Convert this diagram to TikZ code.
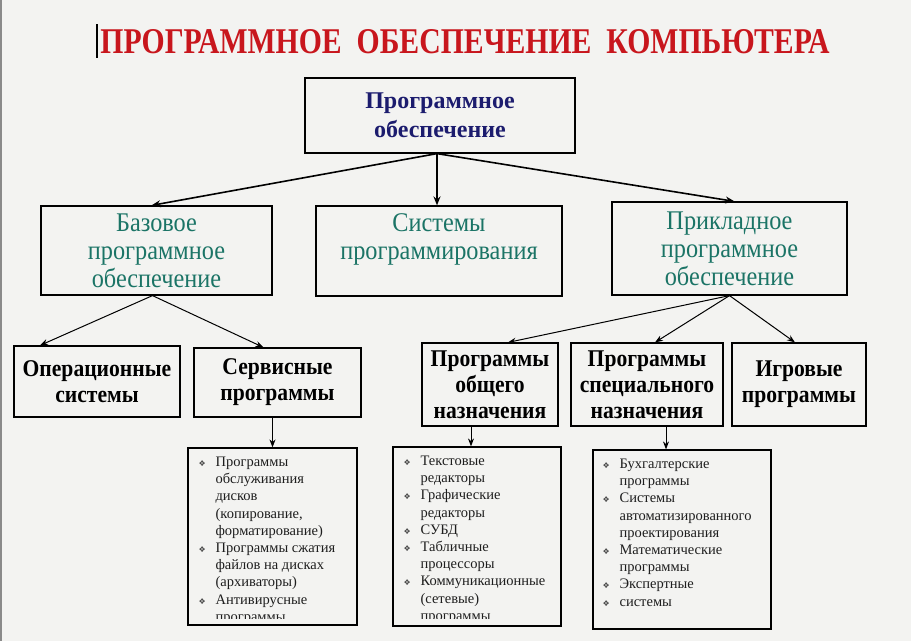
\documentclass[tikz,border=0pt]{standalone}
\usepackage{fontspec}
\usepackage{graphicx}
\setmainfont{Liberation Serif}
\newfontfamily\condfont[FakeStretch=0.9]{Liberation Serif}
\newfontfamily\symfont{DejaVu Sans}
\usetikzlibrary{positioning,arrows.meta,calc}
\definecolor{pBack}{HTML}{F3F3F1}
\definecolor{pRed}{HTML}{C8161D}
\definecolor{pNavy}{HTML}{1C1C6E}
\definecolor{pTeal}{HTML}{1B7466}
\definecolor{pEdge}{HTML}{8A8A8A}
\definecolor{pInk}{HTML}{1E1E1E}
\newcommand{\bul}{{\symfont\fontsize{8}{8}\selectfont\textcolor{black!70}{❖}}}
\newcommand{\plist}[1]{\begin{tabular}[t]{@{}p{17pt}@{}l@{}}#1\end{tabular}}
\newcommand{\wsp}{\hspace{0.45em}}
\tikzset{
  topbox/.style={draw, line width=1.2pt, inner sep=0pt, align=center, text=pNavy,
    font=\bfseries\fontsize{24}{29}\selectfont},
  midbox/.style={draw, line width=1.2pt, inner sep=0pt, align=center, text=pTeal,
    font=\condfont\fontsize{27}{28}\selectfont},
  lowbox/.style={draw, line width=1.2pt, inner sep=0pt, align=center, text=black,
    font=\condfont\bfseries\fontsize{24}{26}\selectfont},
  listbox/.style={draw, line width=1.2pt, inner sep=0pt},
  listtext/.style={anchor=base west, inner sep=0pt, text=pInk,
    font=\fontsize{14.5}{17.2}\selectfont},
  arrbig/.style={line width=1.6pt, -{Stealth[length=9pt,width=7pt]}},
  arrsmall/.style={line width=1pt, -{Stealth[length=8pt,width=6pt]}}
}

\begin{document}
\begin{tikzpicture}[x=1pt,y=-1pt]
\fill[pBack] (0,0) rectangle (911,641);
\useasboundingbox (0,0) rectangle (911,641);
\fill[pEdge] (0,0) rectangle (2,641);

% title
\node[inner sep=0pt, text=pRed] (ttl) at (465,42)
  {\resizebox{729pt}{24pt}{\condfont\bfseries ПРОГРАММНОЕ\wsp ОБЕСПЕЧЕНИЕ\wsp КОМПЬЮТЕРА}};
\draw[line width=1.3pt] (97,24) -- (97,58);

% levels
\node[topbox, minimum width=270pt, minimum height=75pt] (ps) at (440,115.5) {Программное\\обеспечение};

\node[midbox, minimum width=231pt, minimum height=89pt] (base) at (156.5,250.5) {Базовое\\программное\\обеспечение};
\node[midbox, minimum width=246pt, minimum height=90pt] (prog) at (439,251) {Системы\\программирования\\\mbox{}};
\node[midbox, minimum width=235pt, minimum height=93pt] (appl) at (729.5,248.5) {Прикладное\\программное\\обеспечение};

\node[lowbox, minimum width=166pt, minimum height=71pt] (os) at (97,381.5) {Операционные\\системы};
\node[lowbox, minimum width=167pt, minimum height=69pt] (srv) at (277.5,382.5) {Сервисные\\программы};
\node[lowbox, minimum width=136pt, minimum height=83pt] (gen) at (490,384.5) {Программы\\общего\\назначения};
\node[lowbox, minimum width=152pt, minimum height=83pt] (spec) at (647,384.5) {Программы\\специального\\назначения};
\node[lowbox, minimum width=134pt, minimum height=83pt] (game) at (799,384.5) {Игровые\\программы};

% lists
\node[listbox, minimum width=169pt, minimum height=177pt] (srvl) at (272.5,536.5) {};
\node[listbox, minimum width=168pt, minimum height=179pt] (genl) at (477,536.5) {};
\node[listbox, minimum width=178pt, minimum height=179pt] (specl) at (682,539.5) {};

\begin{scope}
\clip (srvl.north west) rectangle ([yshift=7pt]srvl.south east);
\node[listtext] (srvt) at ($(srvl.north west)+(11,19)$) {\plist{%
\bul & Программы\\ & обслуживания\\ & дисков\\ & (копирование,\\ & форматирование)\\
\bul & Программы сжатия\\ & файлов на дисках\\ & (архиваторы)\\
\bul & Антивирусные\\ & программы}};
\end{scope}
\begin{scope}
\clip (genl.north west) rectangle ([yshift=8pt]genl.south east);
\node[listtext] (gent) at ($(genl.north west)+(11,19)$) {\plist{%
\bul & Текстовые\\ & редакторы\\
\bul & Графические\\ & редакторы\\
\bul & СУБД\\
\bul & Табличные\\ & процессоры\\
\bul & Коммуникационные\\ & (сетевые)\\ & программы}};
\end{scope}
\node[listtext] (spect) at ($(specl.north west)+(10,19)$) {\plist{%
\bul & Бухгалтерские\\ & программы\\
\bul & Системы\\ & автоматизированного\\ & проектирования\\
\bul & Математические\\ & программы\\
\bul & Экспертные\\
\bul & системы}};

% connectors
\draw[arrbig] ([xshift=-3pt]ps.south) -- ([xshift=-5pt]base.north);
\draw[arrbig] ([xshift=-3pt]ps.south) -- ([xshift=-2pt]prog.north);
\draw[arrbig] ([xshift=-3pt]ps.south) -- ([xshift=5pt]appl.north);

\draw[arrsmall] ([xshift=-4pt]base.south) -- ([xshift=-57pt]os.north);
\draw[arrsmall] ([xshift=-4pt]base.south) -- ([xshift=-14pt]srv.north);

\draw[arrsmall] (appl.south) -- ([xshift=18pt]gen.north);
\draw[arrsmall] (appl.south) -- ([xshift=8pt]spec.north);
\draw[arrsmall] (appl.south) -- ([xshift=-4pt]game.north);

\draw[arrsmall] (srv.south -| srvl.north) -- (srvl.north);
\draw[arrsmall] ([xshift=-19pt]gen.south) -- ([xshift=-19pt]gen.south |- genl.north);
\draw[arrsmall] ([xshift=19pt]spec.south) -- ([xshift=19pt]spec.south |- specl.north);
\end{tikzpicture}
\end{document}
